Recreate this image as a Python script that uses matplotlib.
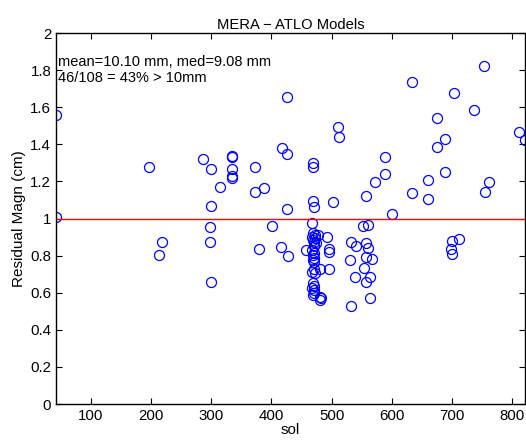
import matplotlib
matplotlib.use("Agg")
import matplotlib.pyplot as plt
from matplotlib.ticker import FormatStrFormatter

# residual magnitude per sol
sol_hi = [42, 42, 197, 286, 299, 299, 315, 334, 334, 334, 334, 334, 373, 373,
          387, 418, 426, 426, 426, 469, 469, 469, 471, 510, 512, 503, 557, 572,
          589, 589, 601, 634, 634, 661, 661, 676, 676, 688, 689, 703, 737, 754,
          755, 762, 812, 821]
mag_hi = [1.56, 1.01, 1.279, 1.319, 1.265, 1.069, 1.168, 1.337, 1.33, 1.265,
          1.229, 1.218, 1.279, 1.143, 1.166, 1.38, 1.348, 1.653, 1.051, 1.297,
          1.278, 1.094, 1.064, 1.493, 1.439, 1.089, 1.121, 1.195, 1.332, 1.242,
          1.023, 1.734, 1.136, 1.206, 1.104, 1.543, 1.387, 1.43, 1.249, 1.675,
          1.583, 1.822, 1.141, 1.197, 1.466, 1.423]

sol_lo = [218, 214, 298, 298, 300, 380, 401, 416, 428, 553, 561, 458, 492, 495,
          495, 495, 481, 481, 482, 481, 477, 532, 541, 530, 539, 532, 557, 561,
          557, 568, 554, 564, 557, 564, 700, 698, 700, 711,
          468, 469, 472, 467, 472, 469, 470, 474, 470, 468, 470, 469, 471, 469,
          470, 470, 468, 473, 469, 470, 468, 470, 469, 471]
mag_lo = [0.872, 0.803, 0.956, 0.873, 0.656, 0.837, 0.961, 0.846, 0.80, 0.96,
          0.965, 0.828, 0.902, 0.834, 0.82, 0.726, 0.726, 0.578, 0.569, 0.561,
          0.911, 0.872, 0.852, 0.776, 0.683, 0.53, 0.87, 0.839, 0.794, 0.78,
          0.735, 0.686, 0.659, 0.573, 0.879, 0.834, 0.807, 0.888,
          0.974, 0.92, 0.911, 0.902, 0.893, 0.884, 0.875, 0.866, 0.85, 0.83,
          0.816, 0.803, 0.789, 0.776, 0.767, 0.726, 0.713, 0.704, 0.651, 0.635,
          0.624, 0.614, 0.588, 0.60]

sol = sol_hi + sol_lo
mag = mag_hi + mag_lo

xticks = [100, 200, 300, 400, 500, 600, 700, 800]
yticks = [0, 0.2, 0.4, 0.6, 0.8, 1, 1.2, 1.4, 1.6, 1.8, 2]
threshold = 1.0

plt.rcParams['font.family'] = ['Liberation Sans', 'DejaVu Sans']

fig = plt.figure(figsize=(5.26, 4.4), dpi=100)
ax = fig.add_axes([0.1065, 0.0818, 0.891, 0.843])

ax.plot(sol, mag, 'o', mfc='none', mec='#0000ff', ms=7.2, mew=0.9)
ax.axhline(threshold, color='#ff0000', lw=1)

ax.set_xlim(min(sol), max(sol))
ax.set_ylim(0, 2)
ax.set_xticks(xticks)
ax.set_yticks(yticks)
ax.yaxis.set_major_formatter(FormatStrFormatter('%g'))
ax.tick_params(direction='in', top=True, right=True, labelsize=10.8, length=4)
for s in ax.spines.values():
    s.set_linewidth(1)

ax.set_xlabel('sol', fontsize=10.8, labelpad=0)
ax.set_ylabel('Residual Magn (cm)', fontsize=11, labelpad=3)
ax.set_title('MERA \u2212 ATLO Models', fontsize=10.6, pad=3)

ax.text(0.004, 0.942, 'mean=10.10 mm, med=9.08 mm\n46/108 = 43% > 10mm',
        transform=ax.transAxes, fontsize=10.5, va='top', ha='left', linespacing=1.2)

fig.savefig('out.png', dpi=100)
